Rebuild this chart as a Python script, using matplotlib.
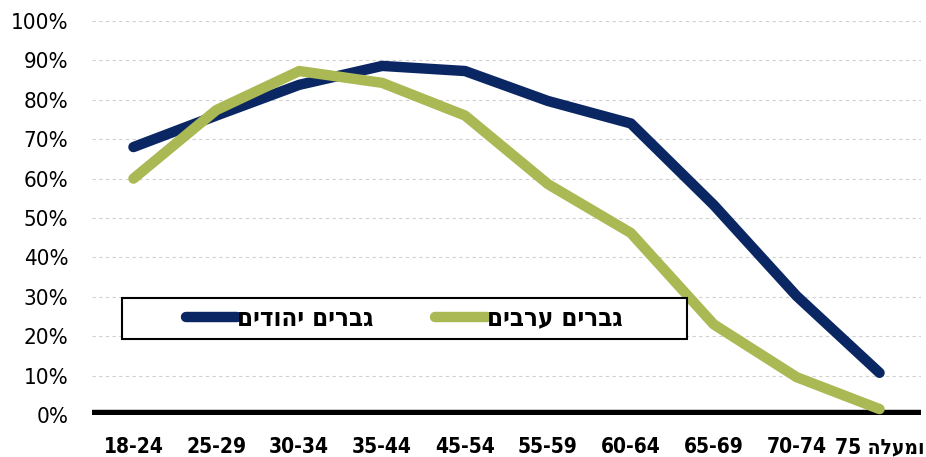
import numpy as np
import matplotlib.pyplot as plt
from matplotlib.patches import Rectangle

# age groups (left to right as drawn)
ages = ['18-24', '25-29', '30-34', '35-44', '45-54', '55-59',
        '60-64', '65-69', '70-74', '75 ' + 'ומעלה'[::-1]]

# employment rate, %
jews = [68, 76, 83.8, 88.6, 87.3, 79.7, 74, 53.3, 30.2, 10.7]
arabs = [60, 77.4, 87.3, 84.3, 76, 58.6, 46.2, 23, 9.6, 1.5]

jews_label = 'גברים יהודים'[::-1]
arabs_label = 'גברים ערבים'[::-1]

navy = '#0B2763'
olive = '#AAB953'

plt.rcParams['font.family'] = ['DejaVu Sans']
plt.rcParams['font.stretch'] = 'condensed'

fig = plt.figure(figsize=(9.26, 4.57), dpi=100)
ax = fig.add_axes([92/926, 42/457, 829/926, 394/457])

x = np.arange(len(ages))

# grid
for v in range(10, 101, 10):
    ax.axhline(v, color='#D0D0D0', lw=0.8, ls=(0, (3, 3)), zorder=1)
ax.axhline(0, color='black', lw=7.5, zorder=2, solid_capstyle='butt')

ax.plot(x, jews, color=navy, lw=7.5, solid_capstyle='round',
        solid_joinstyle='round', label=jews_label, zorder=3)
ax.plot(x, arabs, color=olive, lw=7.5, solid_capstyle='round',
        solid_joinstyle='round', label=arabs_label, zorder=4)

ax.set_xlim(-0.5, 9.5)
ax.set_ylim(0, 100)
ax.set_yticks(range(0, 101, 10))
ax.set_yticklabels([f'{v}%' for v in range(0, 101, 10)], fontsize=16)
ax.set_xticks(x)
ax.set_xticklabels(ages, fontsize=15, fontweight='bold')
ax.tick_params(length=0)
ax.tick_params(axis='x', pad=16)
ax.tick_params(axis='y', pad=17)
for s in ax.spines.values():
    s.set_visible(False)

# legend box
ax.add_patch(Rectangle((30/829, 76/394), 565/829, 41/394, transform=ax.transAxes,
                       facecolor='white', edgecolor='black', lw=1.5, zorder=5))
leg = ax.legend(ncol=2, loc='center', bbox_to_anchor=(312/829, 96.5/394),
                frameon=False, prop={'size': 18.5, 'weight': 'bold'},
                handlelength=2.0, handletextpad=0.0, columnspacing=2.4,
                borderaxespad=0)
leg.set_zorder(6)

fig.savefig('out.png', dpi=100)
